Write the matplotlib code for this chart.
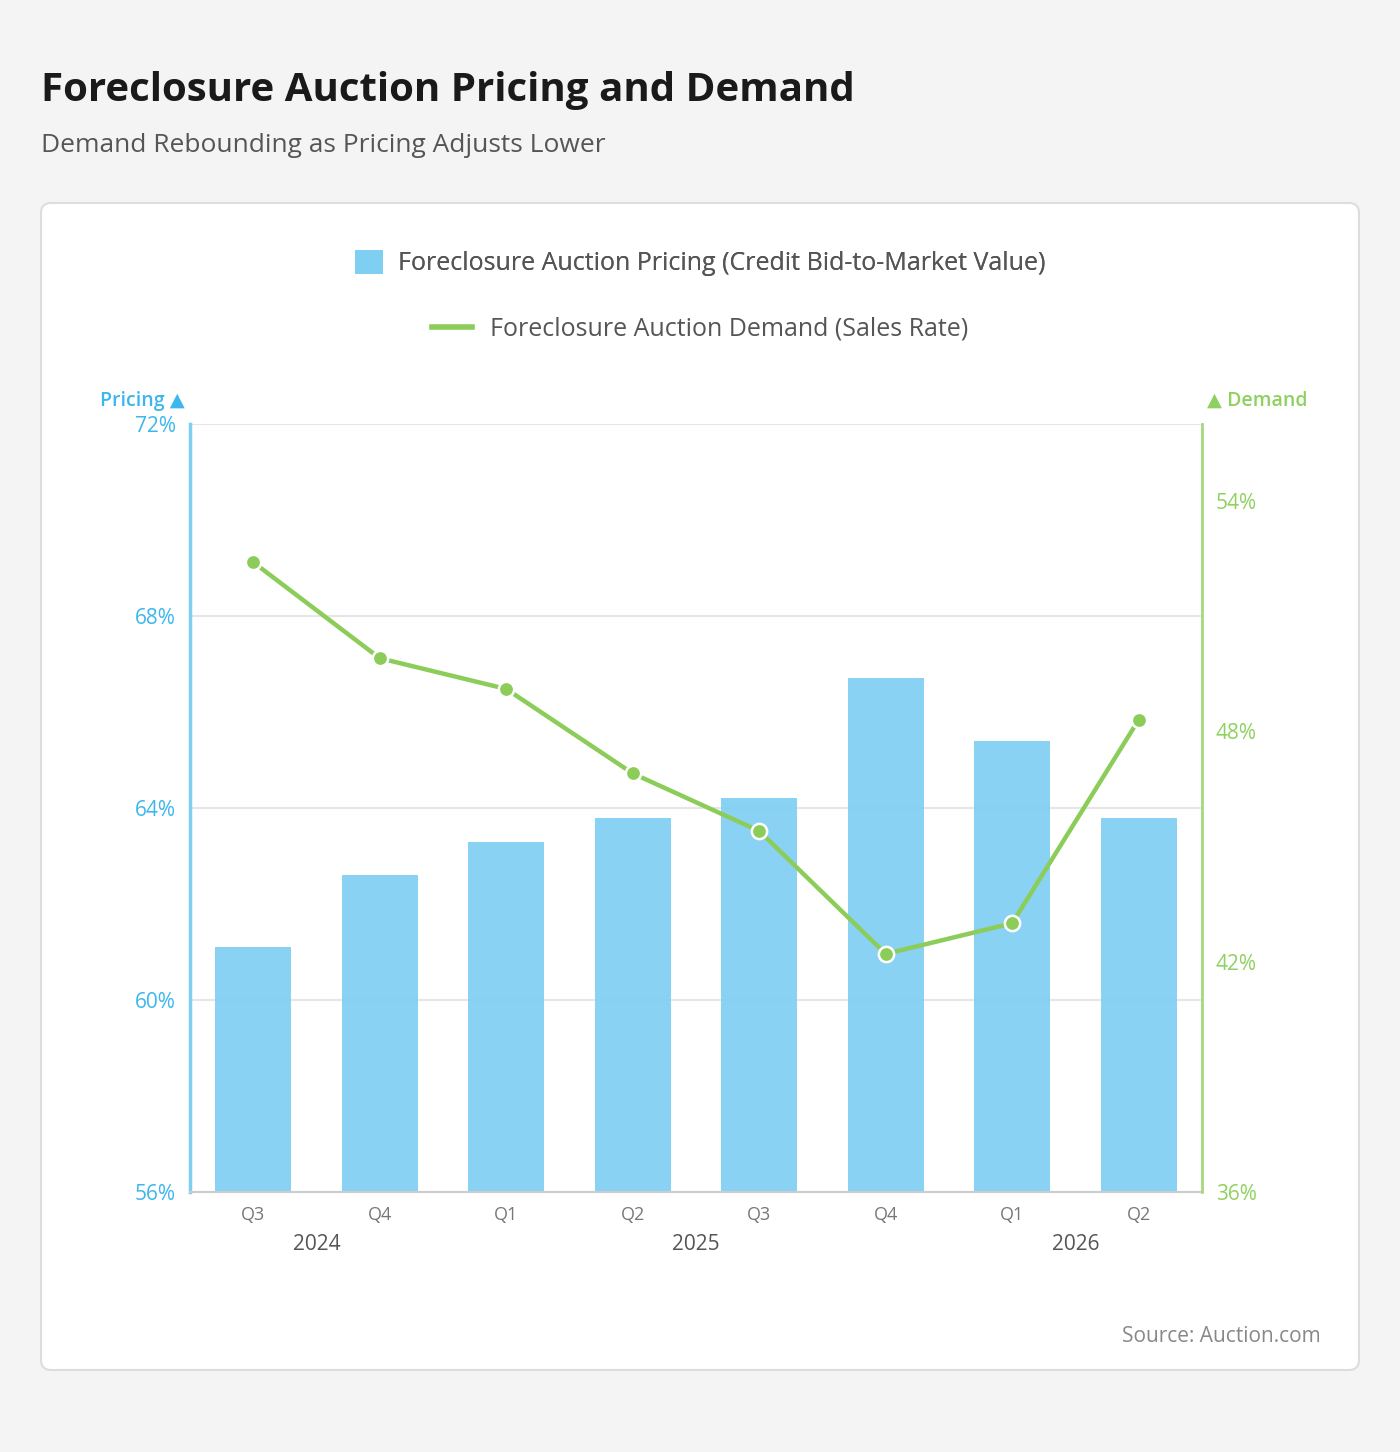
import matplotlib.pyplot as plt
from matplotlib.patches import FancyBboxPatch, Patch
from matplotlib.lines import Line2D

plt.rcParams['font.family'] = ['Open Sans', 'DejaVu Sans']

quarters = ['Q3', 'Q4', 'Q1', 'Q2', 'Q3', 'Q4', 'Q1', 'Q2']
years = ['2024', '2025', '2026']
year_span = [(0, 1), (2, 5), (6, 7)]
pricing = [61.1, 62.6, 63.3, 63.8, 64.2, 66.7, 65.4, 63.8]
demand = [52.4, 49.9, 49.1, 46.9, 45.4, 42.2, 43.0, 48.3]
left_ticks = [56, 60, 64, 68, 72]
right_ticks = [36, 42, 48, 54]

blue = '#7fcff3'
blue_txt = '#3cb7ee'
green = '#8ccd5a'
green_txt = '#8fd160'

fig = plt.figure(figsize=(14, 14.52), dpi=100, facecolor='#f4f4f4')

# white card
card = FancyBboxPatch((0.41, 0.82), 13.18, 11.67, boxstyle='round,pad=0,rounding_size=0.1',
                      transform=fig.dpi_scale_trans, facecolor='white', edgecolor='#dddddd',
                      linewidth=1.5, zorder=-5)
fig.patches.append(card)

fig.text(41 / 1400, 1 - 90 / 1452, 'Foreclosure Auction Pricing and Demand', fontsize=29,
         fontweight='bold', color='#1a1a1a', va='center', ha='left')
fig.text(41 / 1400, 1 - 146 / 1452, 'Demand Rebounding as Pricing Adjusts Lower', fontsize=19,
         color='#555555', va='center', ha='left')

ax = fig.add_axes([190 / 1400, 1 - 1192 / 1452, 1012 / 1400, 768 / 1452])
ax.set_facecolor('none')
x = range(len(quarters))
bars = ax.bar(x, pricing, width=0.6, color=blue, alpha=0.92, zorder=2)
ax.set_xlim(-0.5, len(quarters) - 0.5)
ax.set_ylim(56, 72)
ax.set_yticks(left_ticks)
ax.set_yticklabels([f'{t}%' for t in left_ticks])
ax.tick_params(axis='y', length=0, colors=blue_txt, labelsize=15, pad=10)
ax.set_xticks(list(x))
ax.set_xticklabels(quarters)
ax.tick_params(axis='x', length=0, colors='#777777', labelsize=13, pad=10)
ax.grid(axis='y', color='#e6e6e6', linewidth=1.5, zorder=0)
ax.set_axisbelow(True)
for s in ['top', 'right']:
    ax.spines[s].set_visible(False)
ax.spines['left'].set_color(blue)
ax.spines['left'].set_linewidth(2.5)
ax.spines['bottom'].set_color('#cccccc')
ax.spines['bottom'].set_linewidth(1.5)

for yr, (a, b) in zip(years, year_span):
    ax.text((a + b) / 2, -0.068, yr, transform=ax.get_xaxis_transform(), ha='center',
            va='center', fontsize=15, color='#555555')

ax2 = ax.twinx()
ax2.plot(list(x), demand, color=green, linewidth=3.2, marker='o', markersize=11,
         markerfacecolor=green, markeredgecolor='white', markeredgewidth=1.8, zorder=3)
ax2.set_ylim(36, 56)
ax2.set_yticks(right_ticks)
ax2.set_yticklabels([f'{t}%' for t in right_ticks])
ax2.tick_params(axis='y', length=0, colors=green_txt, labelsize=15, pad=10)
for s in ['top', 'left', 'bottom']:
    ax2.spines[s].set_visible(False)
ax2.spines['right'].set_color('#a5d87f')
ax2.spines['right'].set_linewidth(2)

ax.text(-0.005, 1.03, 'Pricing \u25b2', transform=ax.transAxes, ha='right', va='center',
        fontsize=14, color=blue_txt, fontweight='semibold')
ax.text(1.005, 1.03, '\u25b2 Demand', transform=ax.transAxes, ha='left', va='center',
        fontsize=14, color=green_txt, fontweight='semibold')

leg1 = fig.legend(handles=[Patch(facecolor=blue, edgecolor='none',
                                 label='Foreclosure Auction Pricing (Credit Bid-to-Market Value)')],
                  loc='center', bbox_to_anchor=(0.5, 1 - 263 / 1452), frameon=False, fontsize=18,
                  handlelength=1.1, handleheight=1.1, handletextpad=0.6, labelcolor='#555555')
fig.legend(handles=[Line2D([0], [0], color=green, linewidth=4,
                           label='Foreclosure Auction Demand (Sales Rate)')],
           loc='center', bbox_to_anchor=(0.5, 1 - 329 / 1452), frameon=False, fontsize=18,
           handlelength=1.6, handletextpad=0.7, labelcolor='#555555')
fig.add_artist(leg1)

fig.text(1321 / 1400, 1 - 1336 / 1452, 'Source: Auction.com', fontsize=15, color='#888888',
         ha='right', va='center')

fig.savefig('out.png', dpi=100, facecolor=fig.get_facecolor())
